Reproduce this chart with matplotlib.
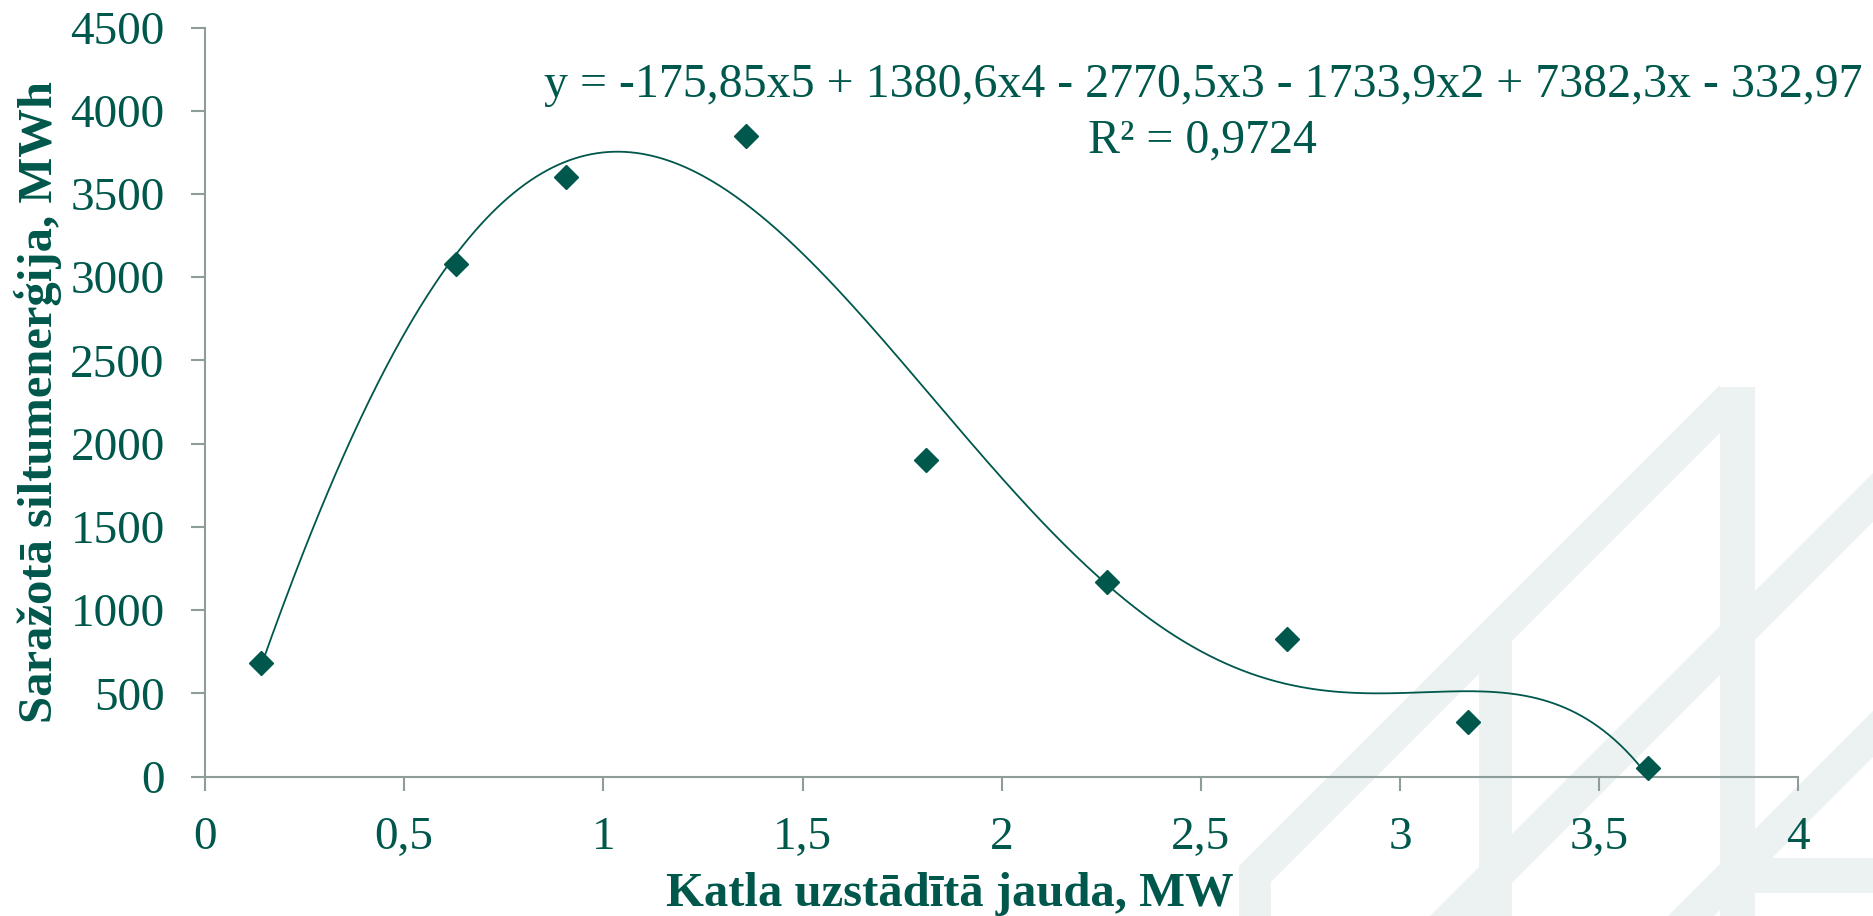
import numpy as np
import matplotlib
matplotlib.use("Agg")
import matplotlib.pyplot as plt
from matplotlib.patches import Polygon

# Boiler installed capacity (MW) and heat energy produced (MWh)
capacity_mw = [0.14, 0.63, 0.905, 1.358, 1.811, 2.264, 2.717, 3.17, 3.623]
heat_mwh = [680, 3080, 3605, 3850, 1900, 1170, 825, 330, 50]

# 5th-order polynomial trendline, highest power first
trend_coeffs = [-175.85, 1380.6, -2770.5, -1733.9, 7382.3, -332.97]
trend_r2 = 0.9724

x_ticks = [0, 0.5, 1, 1.5, 2, 2.5, 3, 3.5, 4]
x_tick_labels = ["0", "0,5", "1", "1,5", "2", "2,5", "3", "3,5", "4"]
y_ticks = [0, 500, 1000, 1500, 2000, 2500, 3000, 3500, 4000, 4500]
y_tick_labels = ["0", "500", "1000", "1500", "2000", "2500", "3000", "3500", "4000", "4500"]

x_label = "Katla uzstādītā jauda, MW"
y_label = "Saražotā siltumenerģija, MWh"

TEAL = "#00574B"
AXIS_GREY = "#8E9D99"
MARK_FILL = "#EBF2F1"
FONT = "Liberation Serif"

W, H = 1874, 916
plt.rcParams["font.family"] = [FONT, "DejaVu Serif"]

fig = plt.figure(figsize=(W / 100, H / 100), dpi=100, facecolor="white")


def px(points):
    """Pixel coordinates (origin top-left) -> figure fraction."""
    return [(x / W, 1 - y / H) for x, y in points]


# Faint logo mark in the lower-right corner of the figure
logo_shapes = [
    [(1720, 387), (1755, 387), (1755, 916), (1720, 916)],
    [(1239, 866), (1720, 385), (1720, 433), (1239, 914)],
    [(1239, 866), (1271, 866), (1271, 916), (1239, 916)],
    [(1479, 674), (1512, 641), (1512, 916), (1479, 916)],
    [(1430, 916), (1874, 472), (1874, 521), (1479, 916)],
    [(1668, 916), (1874, 710), (1874, 756), (1714, 916)],
    [(1740, 858), (1874, 858), (1874, 893), (1740, 893)],
]
for shape in logo_shapes:
    fig.patches.append(Polygon(px(shape), closed=True, transform=fig.transFigure,
                               facecolor=MARK_FILL, edgecolor="none", zorder=-5))

ax = fig.add_axes([205 / W, 1 - 776.7 / H, (1798.4 - 205) / W, (776.7 - 27.5) / H])
ax.set_facecolor("none")

# Measured points
ax.plot(capacity_mw, heat_mwh, linestyle="none", marker="D", markersize=12.5,
        markerfacecolor=TEAL, markeredgecolor=TEAL, markeredgewidth=1.0,
        clip_on=False, zorder=4)

# Polynomial trendline across the measured range
xs = np.linspace(min(capacity_mw), max(capacity_mw), 500)
ax.plot(xs, np.polyval(trend_coeffs, xs), color=TEAL, linewidth=1.3, zorder=3)


def dec(v):
    return str(v).replace(".", ",")


powers = ["x5", "x4", "x3", "x2", "x", ""]
eq = "y = " + dec(trend_coeffs[0]) + powers[0]
for c, p in zip(trend_coeffs[1:], powers[1:]):
    eq += (" + " if c >= 0 else " - ") + dec(abs(c)) + p

ax.text(2.505, 4080, eq, ha="center", va="baseline", fontsize=34.5,
        color=TEAL, clip_on=False)
ax.text(2.505, 3748, "R² = " + dec(trend_r2), ha="center", va="baseline",
        fontsize=34.5, color=TEAL, clip_on=False)

ax.set_xlim(0, 4)
ax.set_ylim(0, 4500)
ax.set_xticks(x_ticks)
ax.set_xticklabels(x_tick_labels)
ax.set_yticks(y_ticks)
ax.set_yticklabels(y_tick_labels)

for side in ("top", "right"):
    ax.spines[side].set_visible(False)
for side in ("left", "bottom"):
    ax.spines[side].set_color(AXIS_GREY)
    ax.spines[side].set_linewidth(1.5)

ax.tick_params(axis="both", direction="out", length=10, width=1.5,
               color=AXIS_GREY, labelcolor=TEAL, labelsize=34, pad=19)

ax.set_xlabel(x_label, fontsize=35, fontweight="bold", color=TEAL)
ax.xaxis.set_label_coords((950 - 205) / (1798.4 - 205), -(906 - 776.7) / (776.7 - 27.5))
ax.xaxis.label.set_verticalalignment("baseline")

ax.set_ylabel(y_label, fontsize=35, fontweight="bold", color=TEAL)
ax.yaxis.set_label_coords((38 - 205) / (1798.4 - 205), 0.5)
ax.yaxis.label.set_verticalalignment("center")

fig.savefig("out.png", dpi=100, facecolor="white")
